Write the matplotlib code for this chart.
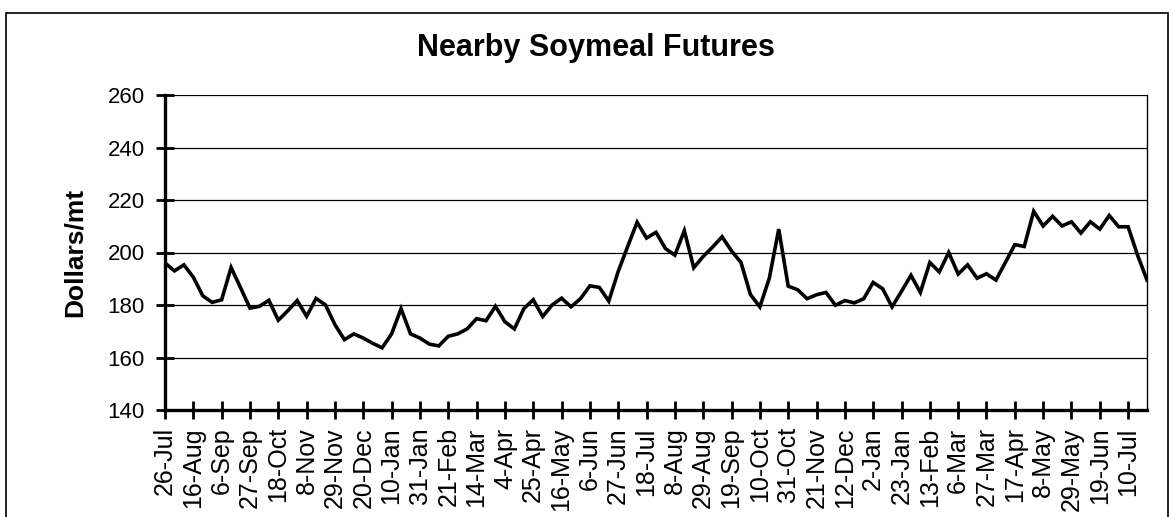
import matplotlib
matplotlib.use("Agg")
import matplotlib.pyplot as plt
from matplotlib.patches import Rectangle

# ---- data ----
title = "Nearby Soymeal Futures"
y_label = "Dollars/mt"

tick_labels = ["26-Jul", "16-Aug", "6-Sep", "27-Sep", "18-Oct", "8-Nov", "29-Nov",
               "20-Dec", "10-Jan", "31-Jan", "21-Feb", "14-Mar", "4-Apr", "25-Apr",
               "16-May", "6-Jun", "27-Jun", "18-Jul", "8-Aug", "29-Aug", "19-Sep",
               "10-Oct", "31-Oct", "21-Nov", "12-Dec", "2-Jan", "23-Jan", "13-Feb",
               "6-Mar", "27-Mar", "17-Apr", "8-May", "29-May", "19-Jun", "10-Jul"]

prices = [196.0, 193.0, 195.3, 190.6, 183.5, 181.0, 182.0, 194.3, 186.6, 178.8,
          179.5, 181.8, 174.2, 177.8, 181.7, 175.7, 182.5, 180.0, 172.5, 166.8,
          169.0, 167.4, 165.4, 163.7, 169.0, 178.6, 169.0, 167.4, 165.1, 164.4,
          168.1, 169.0, 170.9, 174.8, 174.0, 179.5, 173.6, 170.9, 178.6, 182.0,
          175.6, 180.0, 182.6, 179.3, 182.4, 187.3, 186.7, 181.5, 192.8, 202.3,
          211.5, 205.5, 207.7, 201.5, 199.0, 208.3, 194.2, 198.5, 202.1, 206.0,
          200.6, 196.2, 184.0, 179.3, 190.2, 208.9, 187.2, 185.8, 182.4, 183.9,
          184.8, 179.9, 181.7, 180.8, 182.4, 188.6, 186.2, 179.3, 185.2, 191.3,
          184.8, 196.2, 192.6, 200.0, 191.8, 195.3, 190.2, 191.9, 189.5, 196.2,
          203.0, 202.3, 215.7, 210.1, 213.8, 210.1, 211.7, 207.4, 211.7, 208.9,
          214.1, 209.8, 209.8, 199.0, 189.5]

y_ticks = [140, 160, 180, 200, 220, 240, 260]
tick_step = 3  # one label every third weekly observation

# ---- figure ----
plt.rcParams['font.family'] = ['Liberation Sans', 'DejaVu Sans']
W, H = 1174, 517
fig = plt.figure(figsize=(W / 100, H / 100), dpi=100)
fig.patch.set_facecolor('white')

# outer chart-area border (bottom edge lies outside the image)
fig.patches.append(Rectangle((6 / W, -5 / H), (1168 - 6) / W, (H - 13 + 5) / H,
                             transform=fig.transFigure, fill=False,
                             edgecolor='black', linewidth=1.2))

left, right, top, bottom = 165, 1147, 95, 410
ax = fig.add_axes([left / W, 1 - bottom / H, (right - left) / W, (bottom - top) / H])

x = list(range(len(prices)))
ax.plot(x, prices, color='black', linewidth=2.6, solid_joinstyle='miter')

ax.set_xlim(0, len(prices) - 1)
ax.set_ylim(y_ticks[0], y_ticks[-1])
ax.set_yticks(y_ticks)
ax.set_yticklabels([str(v) for v in y_ticks])
ax.set_xticks(list(range(0, len(tick_labels) * tick_step, tick_step)))
ax.set_xticklabels(tick_labels, rotation=90)

for v in y_ticks[1:]:
    ax.axhline(v, color='black', linewidth=0.9, zorder=0)

ax.spines['top'].set_visible(False)
ax.spines['right'].set_linewidth(1.0)
ax.spines['left'].set_linewidth(2.4)
ax.spines['bottom'].set_linewidth(2.4)

ax.tick_params(axis='both', direction='inout', length=13, width=2.0, colors='black')
ax.tick_params(axis='y', pad=8, labelsize=16)
ax.tick_params(axis='x', pad=6, labelsize=18)

fig.text(596 / W, 1 - 48 / H, title, ha='center', va='center',
         fontsize=22, fontweight='bold')
fig.text(75 / W, 1 - 252 / H, y_label, ha='center', va='center', rotation=90,
         fontsize=19, fontweight='bold')

fig.savefig("out.png", dpi=100, facecolor='white')
